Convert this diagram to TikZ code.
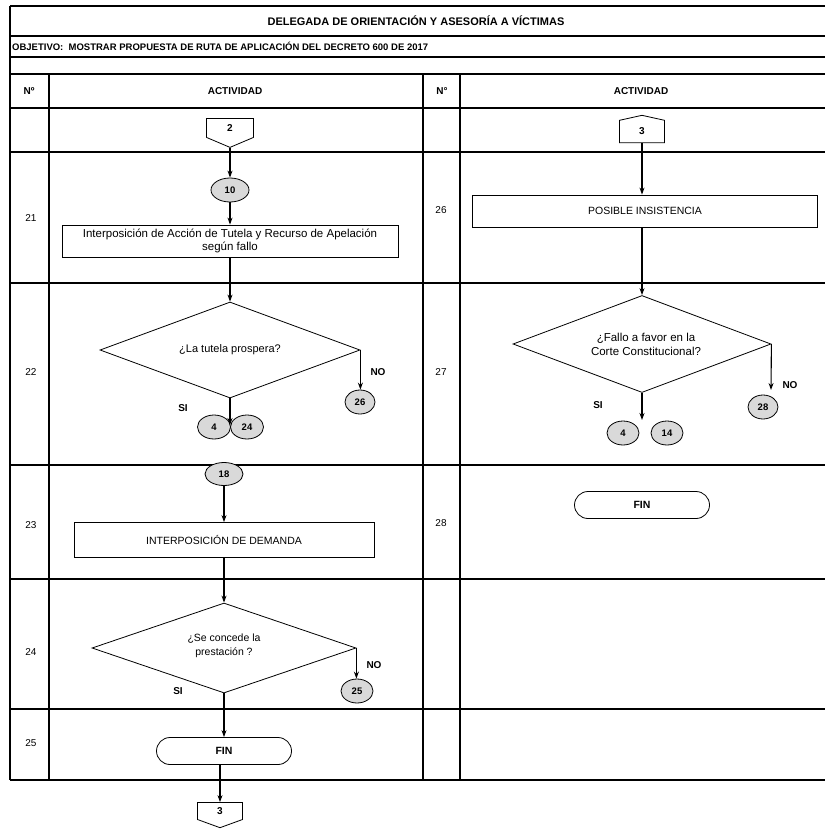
\documentclass[tikz,border=0pt]{standalone}
\usepackage{fontspec}
\setmainfont{Liberation Sans}
\usetikzlibrary{arrows.meta,shapes.geometric,shapes.misc,shapes.symbols}
\begin{document}
\begin{tikzpicture}[x=1pt,y=-1pt,
  tbl/.style={line width=1.1pt},
  arr/.style={line width=1.1pt,-{Stealth[length=7pt,width=5pt]}},
  proc/.style={draw,line width=0.8pt,inner sep=0pt,align=center,font=\fontsize{10.5}{12}\selectfont},
  dec/.style={draw,diamond,line width=0.8pt,inner sep=0pt},
  dtext/.style={inner sep=0pt,align=center,font=\fontsize{10.5}{13}\selectfont},
  conn/.style={draw,ellipse,line width=0.8pt,fill=black!15,inner sep=0pt,minimum width=32pt,minimum height=24pt,font=\bfseries\fontsize{9.5}{10}\selectfont},
  term/.style={draw,rounded rectangle,line width=0.8pt,inner sep=0pt,minimum width=135pt,minimum height=27pt,font=\bfseries\fontsize{10.5}{12}\selectfont},
  offpage/.style={draw,signal,line width=0.8pt,inner sep=0pt,font=\bfseries\fontsize{10}{11}\selectfont},
  num/.style={font=\fontsize{10}{11}\selectfont},
  hdr/.style={font=\bfseries\fontsize{10}{11}\selectfont},
  lbl/.style={font=\bfseries\fontsize{10}{11}\selectfont}
]
\useasboundingbox (0,0) rectangle (825,830);

% ---------- table ----------
\draw[tbl] (10,6) -- (825,6);
\draw[tbl] (10,36) -- (825,36);
\draw[tbl] (10,57) -- (825,57);
\draw[tbl] (10,74) -- (825,74);
\draw[tbl] (10,108) -- (825,108);
\draw[tbl] (10,152) -- (825,152);
\draw[tbl] (10,283) -- (825,283);
\draw[tbl] (10,465) -- (825,465);
\draw[tbl] (10,579) -- (825,579);
\draw[tbl] (10,709) -- (825,709);
\draw[tbl] (10,780) -- (825,780);
\draw[tbl] (10,6) -- (10,780);
\draw[tbl] (49,74) -- (49,780);
\draw[tbl] (423,74) -- (423,780);
\draw[tbl] (460,74) -- (460,780);

\node[font=\bfseries\fontsize{11}{12}\selectfont] (title) at (416,21) {DELEGADA DE ORIENTACIÓN Y ASESORÍA A VÍCTIMAS};
\node[font=\bfseries\fontsize{9.5}{11}\selectfont,anchor=west,inner sep=0pt] (obj) at (12,46.5) {OBJETIVO:\ \ MOSTRAR PROPUESTA DE RUTA DE APLICACIÓN DEL DECRETO 600 DE 2017};
\node[hdr] (h1) at (29,91) {Nº};
\node[hdr] (h2) at (235,91) {ACTIVIDAD};
\node[hdr] (h3) at (442,91) {N°};
\node[hdr] (h4) at (641,91) {ACTIVIDAD};

\node[num] (n21) at (31,218) {21};
\node[num] (n22) at (31,372) {22};
\node[num] (n23) at (31,525) {23};
\node[num] (n24) at (31,652) {24};
\node[num] (n25) at (31,743) {25};
\node[num] (n26) at (441,210) {26};
\node[num] (n27) at (441,372) {27};
\node[num] (n28) at (441,523) {28};

% ---------- left flow ----------
\node[offpage,signal to=south,signal pointer angle=134,minimum width=47pt,minimum height=20pt] (c2) at (230,128) {2};
\node[conn,minimum width=38pt] (e10) at (230,190) {10};
\node[proc,minimum width=336pt,minimum height=32pt,font=\fontsize{11.5}{12.5}\selectfont] (b21) at (230,241) {Interposición de Acción de Tutela y Recurso de Apelación\\según fallo};
\node[dec,minimum width=260pt,minimum height=96pt] (d22) at (230,350) {};
\node[dtext,font=\fontsize{11}{13}\selectfont] (d22t) at (d22.center) {¿La tutela prospera?};
\node[conn,minimum width=30pt] (e26) at (360,402) {26};
\node[conn,minimum width=33pt] (e4a) at (214,427) {4};
\node[conn,minimum width=33pt] (e24) at (247,427) {24};
\coordinate (siA) at (230,425);
\node[lbl] (siAl) at (183,408) {SI};
\node[lbl] (noAl) at (378,372) {NO};

\node[conn,minimum width=38pt,minimum height=23pt] (e18) at (224,474) {18};
\node[proc,minimum width=300pt,minimum height=35pt] (b23) at (224,540) {INTERPOSICIÓN DE DEMANDA};
\node[dec,minimum width=264pt,minimum height=90pt] (d24) at (224,648) {};
\node[dtext,font=\fontsize{10.5}{14}\selectfont] (d24t) at ([yshift=2pt]d24.center) {¿Se concede la\\prestación ?};
\node[conn,minimum width=32pt] (e25) at (357,691) {25};
\node[lbl] (siBl) at (178,691) {SI};
\node[lbl] (noBl) at (374,665) {NO};
\node[term] (fin25) at (224,751) {FIN};
\node[offpage,signal to=south,signal pointer angle=140,minimum width=45pt,minimum height=18pt] (c3o) at (220,811) {3};

\draw[arr] (c2.south) -- (e10.north);
\draw[arr] (e10.south) -- (b21.north);
\draw[arr] (b21.south) -- (d22.north);
\draw[arr] (d22.east) -- (d22.east |- e26.north);
\draw[arr] (d22.south) -- (siA);
\draw[arr] (e18.south) -- (b23.north);
\draw[arr] (b23.south) -- (d24.north);
\draw[arr] (d24.east) -- (d24.east |- e25.north);
\draw[arr] (d24.south) -- (fin25.north);
\draw[arr] (fin25.south -| c3o.north) -- (c3o.north);

% ---------- right flow ----------
\node[offpage,signal to=north,signal pointer angle=155,minimum width=45pt,minimum height=23pt] (c3i) at (642,131.5) {3};
\node[proc,minimum width=345pt,minimum height=32pt] (b26) at (645,211) {POSIBLE INSISTENCIA};
\node[dec,minimum width=258pt,minimum height=97pt] (d27) at (642,344) {};
\node[dtext,font=\fontsize{11.5}{14}\selectfont] (d27t) at ([xshift=4pt]d27.center) {¿Fallo a favor en la\\Corte Constitucional?};
\coordinate (siC) at (642,420);
\coordinate (noC) at (771,390);
\node[conn,minimum width=32pt] (e4b) at (623,433) {4};
\node[conn,minimum width=32pt] (e14) at (667,433) {14};
\node[conn,minimum width=30pt] (e28) at (763,407) {28};
\node[lbl] (siCl) at (598,405) {SI};
\node[lbl] (noCl) at (790,385) {NO};
\node[term] (fin28) at (642,505) {FIN};

\draw[arr] (c3i.south) -- (b26.north -| c3i.south);
\draw[arr] (b26.south -| d27.north) -- (d27.north);
\draw[arr] (d27.south) -- (siC);
\draw[arr] (d27.east) -- (noC);
\end{tikzpicture}
\end{document}
